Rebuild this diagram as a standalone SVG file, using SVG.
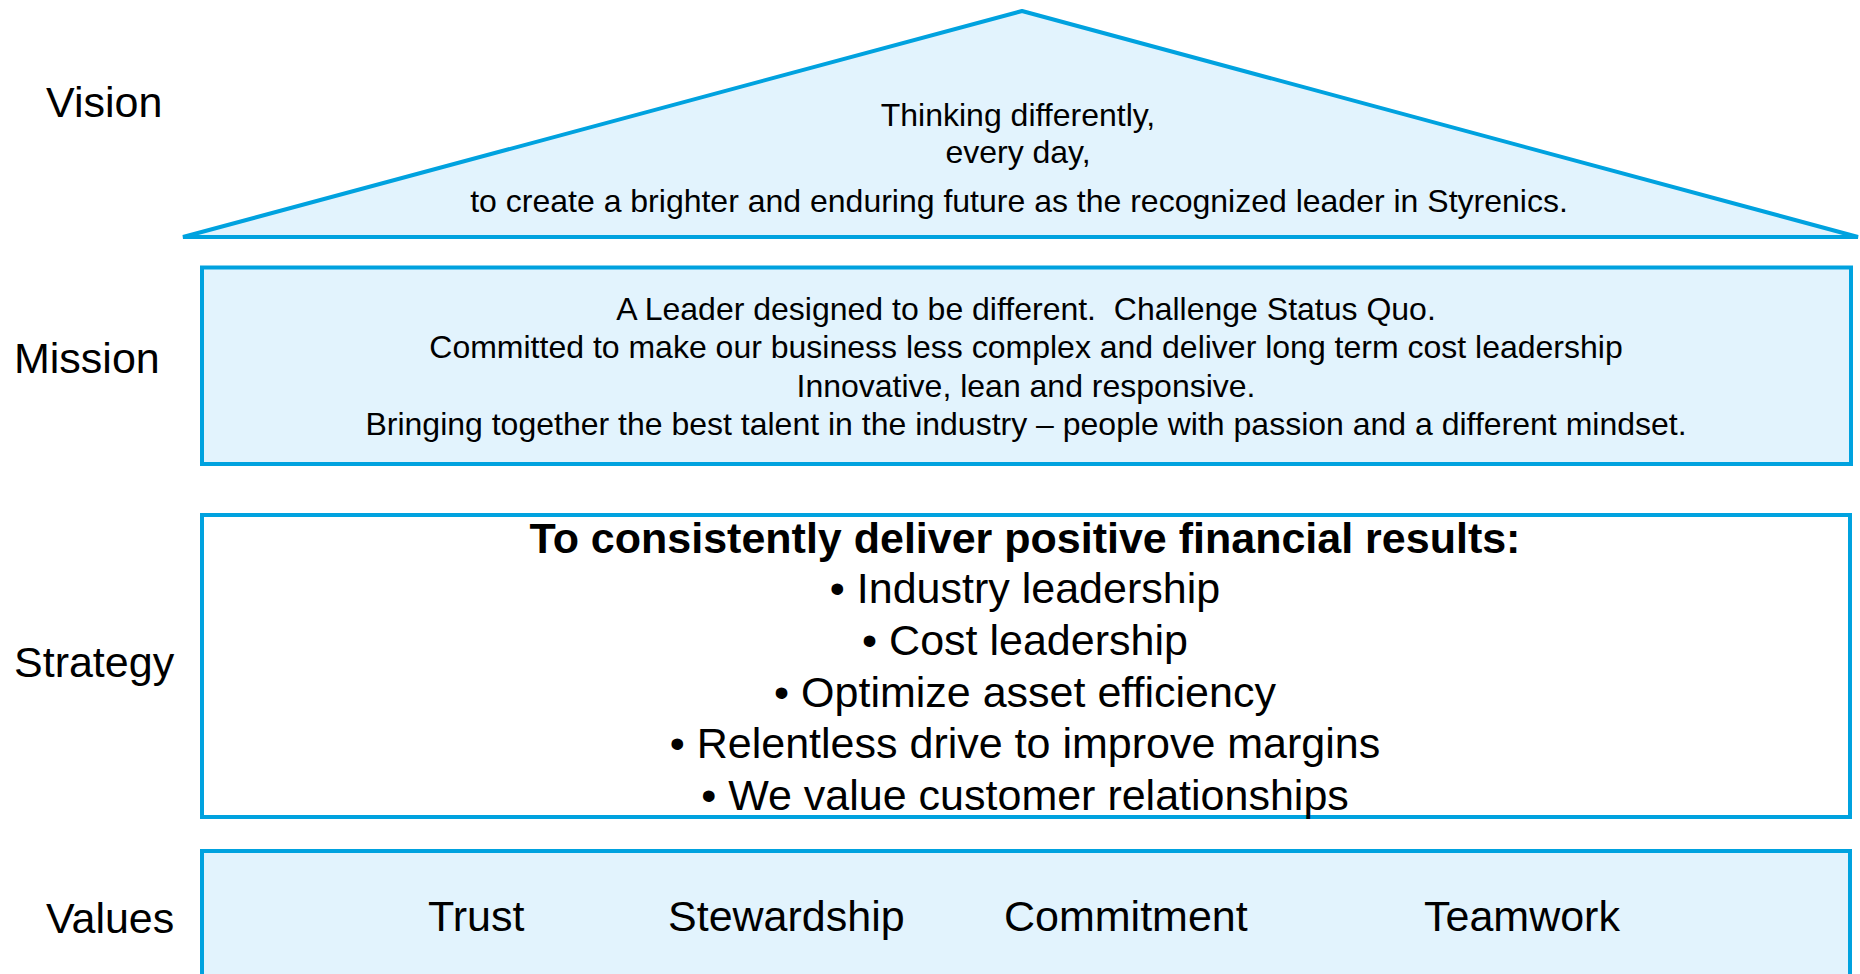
<svg xmlns="http://www.w3.org/2000/svg" width="1860" height="974" viewBox="0 0 1860 974">
<style>
.shape{stroke:#00A2DF;stroke-width:4;}
.lt{fill:#E2F3FD;}
.wh{fill:#FFFFFF;}
text{font-family:"Liberation Sans",Arial,sans-serif;fill:#000;}
.lbl{font-size:43px;}
.sm{font-size:32px;text-anchor:middle;}
.big{font-size:43px;text-anchor:middle;}
.val{font-size:43px;}
</style>
<rect width="1860" height="974" fill="#FFFFFF"/>
<g id="labels">
<text class="lbl" x="46" y="117">Vision</text>
<text class="lbl" x="14" y="373">Mission</text>
<text class="lbl" x="14" y="677">Strategy</text>
<text class="lbl" x="46" y="933">Values</text>
</g>
<g id="vision">
<polygon class="shape lt" points="183,237 1022,11 1858,237" stroke-linejoin="bevel"/>
<text class="sm" x="1018" y="126">Thinking differently,</text>
<text class="sm" x="1018" y="163">every day,</text>
<text class="sm" x="1019" y="212">to create a brighter and enduring future as the recognized leader in Styrenics.</text>
</g>
<g id="mission">
<rect class="shape lt" x="202" y="267.5" width="1649" height="196.5"/>
<text class="sm" x="1026" y="320" xml:space="preserve">A Leader designed to be different.  Challenge Status Quo.</text>
<text class="sm" x="1026" y="358">Committed to make our business less complex and deliver long term cost leadership</text>
<text class="sm" x="1026" y="397">Innovative, lean and responsive.</text>
<text class="sm" x="1026" y="435">Bringing together the best talent in the industry – people with passion and a different mindset.</text>
</g>
<g id="strategy">
<rect class="shape wh" x="202" y="515" width="1648" height="302"/>
<text class="big" x="1025" y="553" font-weight="bold">To consistently deliver positive financial results:</text>
<text class="big" x="1025" y="603">• Industry leadership</text>
<text class="big" x="1025" y="655">• Cost leadership</text>
<text class="big" x="1025" y="707">• Optimize asset efficiency</text>
<text class="big" x="1025" y="758">• Relentless drive to improve margins</text>
<text class="big" x="1025" y="810">• We value customer relationships</text>
</g>
<g id="values">
<rect class="shape lt" x="202" y="851" width="1648" height="200"/>
<text class="val" x="428" y="931">Trust</text>
<text class="val" x="668" y="931">Stewardship</text>
<text class="val" x="1004" y="931">Commitment</text>
<text class="val" x="1424" y="931">Teamwork</text>
</g>
<g id="connectors"/>
</svg>
